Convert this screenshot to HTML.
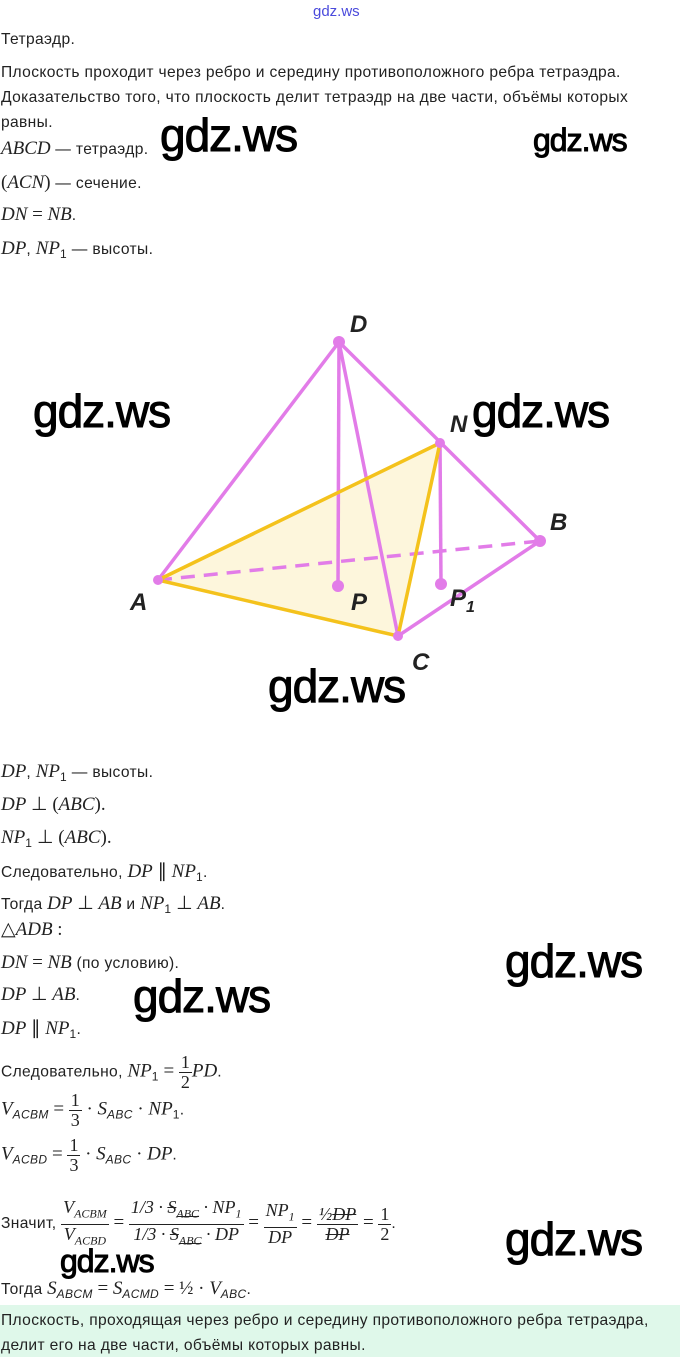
<!DOCTYPE html>
<html><head><meta charset="utf-8"><style>
body{margin:0;width:680px;height:1357px;background:#fff;position:relative;overflow:hidden;font-family:"Liberation Sans",sans-serif;color:#222}
.t{position:absolute;left:1px;font-size:15.6px;white-space:nowrap;line-height:20px;letter-spacing:0.35px}
.m{font-family:"Liberation Serif",serif;font-style:italic;font-size:19px;letter-spacing:0}
.r{font-family:"Liberation Serif",serif;font-size:19px;letter-spacing:0}
.w{position:absolute;font-family:"Liberation Sans",sans-serif;color:#000;font-size:46px;line-height:1;letter-spacing:-1px;-webkit-text-stroke:1px #000}
.f{display:inline-block;vertical-align:middle;text-align:center;font-family:"Liberation Serif",serif;font-style:italic;font-size:18px;line-height:19px;letter-spacing:0}
.f>span{display:block;padding:0 2px}
.f>span:first-child{border-bottom:1px solid #222}
sub{font-size:12px}
</style></head><body>
<div style="position:absolute;left:313px;top:3px;font-size:15px;color:#4a4adc">gdz.ws</div>
<div class="t" style="top:30px">Тетраэдр.</div>
<div class="t" style="top:63px">Плоскость проходит через ребро и середину противоположного ребра тетраэдра.</div>
<div class="t" style="top:88px">Доказательство того, что плоскость делит тетраэдр на две части, объёмы которых</div>
<div class="t" style="top:113px">равны.</div>
<div class="t" style="top:139px"><span class="m">ABCD</span> — тетраэдр.</div>
<div class="t" style="top:173px"><span class="r">(</span><span class="m">ACN</span><span class="r">)</span> — сечение.</div>
<div class="t" style="top:205px"><span class="m">DN</span> <span class="r">=</span> <span class="m">NB</span>.</div>
<div class="t" style="top:239px"><span class="m">DP</span>, <span class="m">NP</span><sub>1</sub> — высоты.</div>
<div class="w" style="left:160px;top:112px">gdz.ws</div>
<div class="w" style="left:533px;top:124px;font-size:32px">gdz.ws</div>

<svg style="position:absolute;left:0;top:0" width="680" height="720">
<polygon points="158,580 440,443 398,636" fill="#fdf6dc"/>
<g stroke="#e27ce8" stroke-width="3.5" fill="none">
<line x1="158" y1="580" x2="339" y2="342"/>
<line x1="339" y1="342" x2="540" y2="541"/>
<line x1="339" y1="342" x2="398" y2="636"/>
<line x1="339" y1="342" x2="338" y2="586"/>
<line x1="440" y1="443" x2="441" y2="584"/>
<line x1="398" y1="636" x2="540" y2="541"/>
<line x1="158" y1="580" x2="540" y2="541" stroke-dasharray="14,9"/>
</g>
<g stroke="#f4c21c" stroke-width="3.5" fill="none">
<line x1="158" y1="580" x2="440" y2="443"/>
<line x1="158" y1="580" x2="398" y2="636"/>
<line x1="440" y1="443" x2="398" y2="636"/>
</g>
<g fill="#e27ce8"><circle cx="339" cy="342" r="6"/><circle cx="440" cy="443" r="5"/><circle cx="540" cy="541" r="6"/><circle cx="158" cy="580" r="5"/><circle cx="398" cy="636" r="5"/><circle cx="338" cy="586" r="6"/><circle cx="441" cy="584" r="6"/></g>
<g font-family="Liberation Sans,sans-serif" font-style="italic" font-weight="bold" font-size="24" fill="#222">
<text x="350" y="332">D</text><text x="450" y="432">N</text><text x="550" y="530">B</text><text x="130" y="610">A</text><text x="351" y="610">P</text><text x="450" y="606">P<tspan font-size="16" dy="6">1</tspan></text><text x="412" y="670">C</text>
</g>
</svg>
<div class="w" style="left:33px;top:388px">gdz.ws</div>
<div class="w" style="left:472px;top:388px">gdz.ws</div>
<div class="w" style="left:268px;top:663px">gdz.ws</div>

<div class="t" style="top:762px"><span class="m">DP</span>, <span class="m">NP</span><sub>1</sub> — высоты.</div>
<div class="t" style="top:795px"><span class="m">DP</span> <span class="r">⊥ (</span><span class="m">ABC</span><span class="r">).</span></div>
<div class="t" style="top:828px"><span class="m">NP</span><sub>1</sub> <span class="r">⊥ (</span><span class="m">ABC</span><span class="r">).</span></div>
<div class="t" style="top:862px">Следовательно, <span class="m">DP</span> <span class="r">∥</span> <span class="m">NP</span><sub>1</sub>.</div>
<div class="t" style="top:894px">Тогда <span class="m">DP</span> <span class="r">⊥</span> <span class="m">AB</span> и <span class="m">NP</span><sub>1</sub> <span class="r">⊥</span> <span class="m">AB</span>.</div>
<div class="t" style="top:920px"><span class="r">△</span><span class="m">ADB</span> <span class="r">:</span></div>
<div class="t" style="top:953px"><span class="m">DN</span> <span class="r">=</span> <span class="m">NB</span> (по условию).</div>
<div class="t" style="top:985px"><span class="m">DP</span> <span class="r">⊥</span> <span class="m">AB</span>.</div>
<div class="t" style="top:1019px"><span class="m">DP</span> <span class="r">∥</span> <span class="m">NP</span><sub>1</sub>.</div>
<div class="t" style="top:1053px;line-height:34px">Следовательно, <span class="m">NP</span><sub>1</sub> <span class="r">=</span> <span class="f"><span style="font-style:normal">1</span><span style="font-style:normal">2</span></span><span class="m">PD</span>.</div>
<div class="t" style="top:1091px;line-height:34px"><span class="m">V</span><sub><i>ACBM</i></sub> <span class="r">=</span> <span class="f"><span style="font-style:normal">1</span><span style="font-style:normal">3</span></span> <span class="r">·</span> <span class="m">S</span><sub><i>ABC</i></sub> <span class="r">·</span> <span class="m">NP</span><sub>1</sub>.</div>
<div class="t" style="top:1136px;line-height:34px"><span class="m">V</span><sub><i>ACBD</i></sub> <span class="r">=</span> <span class="f"><span style="font-style:normal">1</span><span style="font-style:normal">3</span></span> <span class="r">·</span> <span class="m">S</span><sub><i>ABC</i></sub> <span class="r">·</span> <span class="m">DP</span>.</div>
<div class="t" style="top:1198px;line-height:48px">Значит, <span class="f"><span><i>V</i><sub>ACBM</sub></span><span><i>V</i><sub>ACBD</sub></span></span> <span class="r">=</span> <span class="f"><span>1/3 · <s>S<sub>ABC</sub></s> · NP<sub>1</sub></span><span>1/3 · <s>S<sub>ABC</sub></s> · DP</span></span> <span class="r">=</span> <span class="f"><span>NP<sub>1</sub></span><span>DP</span></span> <span class="r">=</span> <span class="f"><span>½<s>DP</s></span><span><s>DP</s></span></span> <span class="r">=</span> <span class="f"><span style="font-style:normal">1</span><span style="font-style:normal">2</span></span>.</div>
<div class="t" style="top:1277px;line-height:24px">Тогда <span class="m">S</span><sub><i>ABCM</i></sub> <span class="r">=</span> <span class="m">S</span><sub><i>ACMD</i></sub> <span class="r">=</span> <span class="r">½ ·</span> <span class="m">V</span><sub><i>ABC</i></sub>.</div>
<div class="w" style="left:505px;top:938px">gdz.ws</div>
<div class="w" style="left:133px;top:973px">gdz.ws</div>
<div class="w" style="left:505px;top:1216px">gdz.ws</div>
<div class="w" style="left:60px;top:1245px;font-size:32px">gdz.ws</div>
<div style="position:absolute;left:0;top:1305px;width:680px;height:52px;background:#dff8ea"></div>
<div class="t" style="top:1311px">Плоскость, проходящая через ребро и середину противоположного ребра тетраэдра,</div>
<div class="t" style="top:1336px">делит его на две части, объёмы которых равны.</div>
</body></html>
